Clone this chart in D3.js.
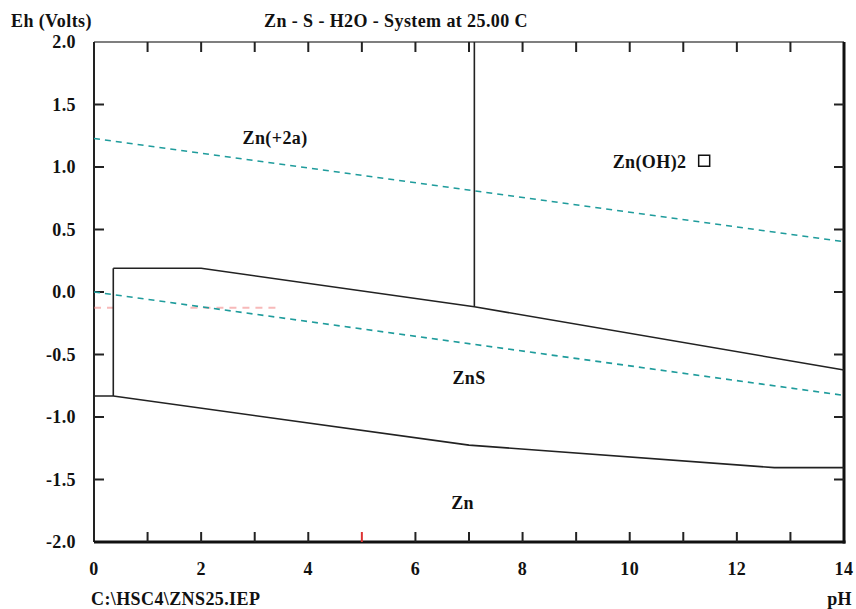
<!DOCTYPE html>
<html lang="en">
<head>
    <meta charset="UTF-8">
    <title>Zn - S - H2O</title>
    <style>
        body { margin: 0; background: #fff; }
        text { font-family: "Liberation Serif", "Times New Roman", serif; font-weight: bold; font-size: 18px; letter-spacing: 0.4px; fill: #111; }
        .bound { fill: none; stroke: #222; stroke-width: 1.6px; }
        .water { fill: none; stroke: #1f9c9c; stroke-width: 1.6px; stroke-dasharray: 6,5; }
    </style>
</head>
<body>

<svg width="856" height="609"></svg>

<script src="https://cdn.jsdelivr.net/npm/d3@7"></script>

<script>
    var phTicks = [0, 2, 4, 6, 8, 10, 12, 14];
    var phMinor = [1, 3, 5, 7, 9, 11, 13];
    var ehTicks = [-2.0, -1.5, -1.0, -0.5, 0.0, 0.5, 1.0, 1.5, 2.0];

    // water stability lines (O2/H2O and H2O/H2)
    var upperWater = [[0, 1.228], [14, 0.402]];
    var lowerWater = [[0, 0.0], [14, -0.827]];

    // ZnS field boundaries
    var znsTop = [[0.36, 0.19], [2.0, 0.19], [7.1, -0.118], [14, -0.624]];
    var znsLeft = [[0.36, 0.19], [0.36, -0.832]];
    var znsBottom = [[0, -0.832], [0.36, -0.832], [7.0, -1.225], [12.7, -1.405], [14, -1.405]];
    var divider = [[7.1, 2.0], [7.1, -0.118]];

    // faint red leftovers in the plot
    var redTrace = [[1.8, -0.125], [3.4, -0.125]];
    var redStub = [[0, -0.125], [0.4, -0.125]];

    var labels = [
        {name: "Zn(+2a)", ph: 3.38, eh: 1.23},
        {name: "Zn(OH)2", ph: 10.37, eh: 1.04},
        {name: "ZnS", ph: 7.0, eh: -0.69},
        {name: "Zn", ph: 6.88, eh: -1.69}
    ];
    var marker = [11.39, 1.05];

    var svg = d3.select("svg")
    var margin = {top: 42, right: 12, bottom: 67, left: 94}
    var width = +svg.attr("width") - margin.left - margin.right
    var height = +svg.attr("height") - margin.top - margin.bottom
    var plotgroup = svg.append("g").attr("transform", `translate(${margin.left}, ${margin.top})`);

    var x = d3.scaleLinear().domain([0, 14]).range([0, width]);
    var y = d3.scaleLinear().domain([-2, 2]).range([height, 0]);

    var line = d3.line()
        .x(d => x(d[0]))
        .y(d => y(d[1]));

    // frame
    plotgroup.append("line").attr("x1", 0).attr("x2", width).attr("y1", 0).attr("y2", 0)
        .style("stroke", "#555").style("stroke-width", 1.5);
    plotgroup.append("line").attr("x1", 0).attr("x2", 0).attr("y1", 0).attr("y2", height)
        .style("stroke", "#222").style("stroke-width", 2);
    plotgroup.append("line").attr("x1", width).attr("x2", width).attr("y1", 0).attr("y2", height + 1.5)
        .style("stroke", "#111").style("stroke-width", 3);
    plotgroup.append("line").attr("x1", 0).attr("x2", width + 1.5).attr("y1", height).attr("y2", height)
        .style("stroke", "#111").style("stroke-width", 3);

    // ticks (inside)
    var allPh = phTicks.concat(phMinor).filter(d => d > 0 && d < 14);
    plotgroup.append("g").selectAll("line").data(allPh).enter().append("line")
        .attr("x1", d => x(d)).attr("x2", d => x(d)).attr("y1", 0).attr("y2", 10)
        .style("stroke", "#222").style("stroke-width", 2);
    plotgroup.append("g").selectAll("line").data(allPh).enter().append("line")
        .attr("x1", d => x(d)).attr("x2", d => x(d)).attr("y1", height).attr("y2", height - 10)
        .style("stroke", d => d === 5 ? "#d33" : "#222").style("stroke-width", 2);
    var innerEh = ehTicks.filter(d => d > -2 && d < 2);
    plotgroup.append("g").selectAll("line").data(innerEh).enter().append("line")
        .attr("x1", 0).attr("x2", 10).attr("y1", d => y(d)).attr("y2", d => y(d))
        .style("stroke", "#222").style("stroke-width", 2);
    plotgroup.append("g").selectAll("line").data(innerEh).enter().append("line")
        .attr("x1", width).attr("x2", width - 10).attr("y1", d => y(d)).attr("y2", d => y(d))
        .style("stroke", "#222").style("stroke-width", 2);

    // tick labels
    plotgroup.append("g").selectAll("text").data(phTicks).enter().append("text")
        .attr("x", d => x(d)).attr("y", height + 33)
        .attr("text-anchor", "middle")
        .text(d => d);
    plotgroup.append("g").selectAll("text").data(ehTicks).enter().append("text")
        .attr("x", -18).attr("y", d => y(d) + 6)
        .attr("text-anchor", "end")
        .text(d => d3.format(".1f")(d).replace("−", "-"));

    // faint red trace
    [redTrace, redStub].forEach(function (pts) {
        plotgroup.append("path").datum(pts)
            .attr("d", line)
            .style("fill", "none").style("stroke", "#f08080").style("stroke-width", 2)
            .style("stroke-dasharray", "7,6").style("opacity", 0.55);
    });

    // water lines
    plotgroup.append("path").datum(upperWater).attr("class", "water").attr("d", line);
    plotgroup.append("path").datum(lowerWater).attr("class", "water").attr("d", line);

    // field boundaries
    [znsTop, znsLeft, znsBottom, divider].forEach(function (pts) {
        plotgroup.append("path").datum(pts).attr("class", "bound").attr("d", line);
    });

    // field labels
    plotgroup.append("g").selectAll("text").data(labels).enter().append("text")
        .attr("x", d => x(d.ph)).attr("y", d => y(d.eh) + 6)
        .attr("text-anchor", "middle")
        .text(d => d.name);

    plotgroup.append("rect")
        .attr("x", x(marker[0]) - 5.5).attr("y", y(marker[1]) - 5.5)
        .attr("width", 11).attr("height", 11)
        .style("fill", "none").style("stroke", "#111").style("stroke-width", 1.5);

    // titles
    svg.append("text").attr("x", 11).attr("y", 27).text("Eh (Volts)");
    svg.append("text").attr("x", 396).attr("y", 27).attr("text-anchor", "middle")
        .text("Zn - S - H2O - System at 25.00 C");
    svg.append("text").attr("x", 91).attr("y", 605).text("C:\\HSC4\\ZNS25.IEP");
    svg.append("text").attr("x", 852).attr("y", 605).attr("text-anchor", "end").text("pH");
</script>

</body>
</html>
